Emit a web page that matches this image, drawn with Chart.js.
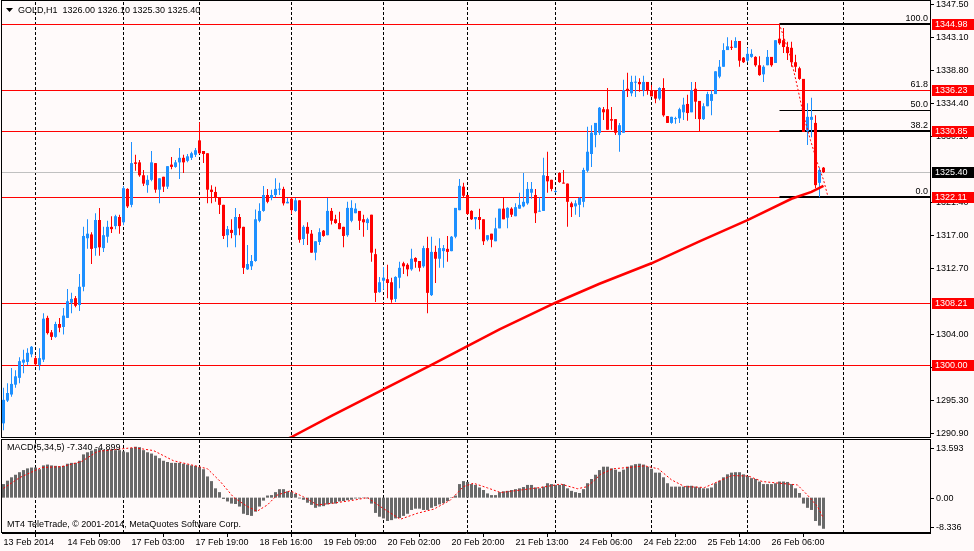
<!DOCTYPE html>
<html>
<head>
<meta charset="utf-8">
<title>GOLD,H1</title>
<script src="https://cdn.jsdelivr.net/npm/chart.js@4.4.1/dist/chart.umd.min.js"></script>
<style>
    html, body {margin: 0; padding: 0; background: #fffafa;}
    #wrap {position: relative; width: 974px; height: 551px; overflow: hidden; background: #fffafa;}
    canvas {position: absolute; left: 0;}
    #priceChart {top: 0;}
    #macdChart {top: 436px;}
</style>
</head>
<body>
<div id="wrap">
    <canvas id="priceChart" width="974" height="446"></canvas>
    <canvas id="macdChart" width="974" height="115"></canvas>
</div>
<script>
// GOLD H1 candles, 13 Feb 17:00 .. 26 Feb 2014
const opens = [
    1292.3, 1295.3, 1296.1, 1297.4, 1298.3, 1300.3, 1300.4, 1301.4, 1300.9, 1300.0,
    1300.7, 1306.2, 1304.3, 1303.7, 1305.4, 1305.0, 1306.2, 1308.2, 1308.8, 1307.9,
    1310.3, 1316.7, 1317.2, 1315.4, 1319.1, 1315.4, 1316.9, 1318.2, 1318.3, 1319.5,
    1318.8, 1323.2, 1321.1, 1326.7, 1326.7, 1325.0, 1323.7, 1324.4, 1326.6, 1323.1,
    1324.8, 1323.5, 1326.4, 1326.1, 1326.7, 1327.3, 1326.9, 1327.3, 1327.7, 1329.6,
    1328.2, 1327.9, 1323.1, 1322.8, 1322.0, 1321.1, 1317.1, 1317.8, 1317.1, 1319.5,
    1318.2, 1312.6, 1313.0, 1313.7, 1319.0, 1320.3, 1322.4, 1322.0, 1322.4, 1323.1,
    1323.2, 1321.3, 1321.9, 1320.3, 1321.7, 1316.6, 1318.2, 1317.3, 1314.8, 1316.2,
    1317.7, 1317.1, 1320.3, 1319.2, 1318.7, 1318.2, 1317.1, 1319.0, 1320.0, 1320.3,
    1319.2, 1318.7, 1319.8, 1314.6, 1309.6, 1311.1, 1311.3, 1310.9, 1308.7, 1311.5,
    1313.4, 1313.2, 1312.6, 1314.1, 1313.7, 1313.0, 1315.4, 1309.2, 1314.9, 1314.0,
    1315.0, 1315.3, 1315.0, 1316.9, 1320.4, 1323.5, 1322.4, 1320.3, 1319.2, 1319.5,
    1319.2, 1316.5, 1317.3, 1316.3, 1318.0, 1320.6, 1319.4, 1320.6, 1319.6, 1320.6,
    1320.9, 1321.3, 1322.7, 1322.4, 1320.2, 1320.3, 1324.9, 1324.4, 1322.8, 1325.3,
    1324.0, 1323.9, 1321.3, 1320.9, 1321.1, 1321.5, 1325.6, 1327.8, 1330.3, 1330.6,
    1333.7, 1333.7, 1332.4, 1332.4, 1330.3, 1330.6, 1336.4, 1335.8, 1337.2, 1337.3,
    1336.2, 1337.3, 1336.2, 1336.1, 1335.1, 1336.5, 1332.8, 1331.9, 1332.4, 1332.5,
    1333.3, 1334.4, 1333.3, 1336.4, 1334.8, 1332.4, 1334.1, 1334.8, 1335.7, 1338.0,
    1339.3, 1341.5, 1341.9, 1341.8, 1342.7, 1340.5, 1340.1, 1340.6, 1340.6, 1339.5,
    1338.3, 1339.5, 1340.6, 1339.8, 1343.0, 1342.8, 1341.9, 1341.8, 1339.9, 1339.1,
    1337.7, 1330.8, 1332.3, 1331.9, 1324.0, 1326.00
]
const highs = [
    1297.0, 1297.6, 1299.6, 1299.3, 1301.0, 1302.0, 1302.2, 1302.5, 1301.2, 1302.2,
    1306.8, 1306.5, 1304.6, 1305.7, 1306.2, 1307.5, 1310.0, 1309.5, 1309.1, 1312.0,
    1318.2, 1319.2, 1317.5, 1320.0, 1320.7, 1318.2, 1319.0, 1319.6, 1319.8, 1319.8,
    1323.6, 1323.3, 1329.4, 1327.7, 1327.0, 1325.7, 1325.0, 1328.2, 1326.6, 1324.6,
    1324.8, 1326.2, 1327.4, 1327.0, 1328.6, 1327.7, 1327.8, 1328.1, 1328.6, 1332.0,
    1328.2, 1327.9, 1323.7, 1323.5, 1322.0, 1321.1, 1318.3, 1319.2, 1320.7, 1319.9,
    1318.2, 1315.8, 1314.5, 1320.5, 1321.3, 1323.6, 1323.2, 1323.1, 1324.6, 1324.0,
    1323.5, 1322.0, 1322.0, 1322.0, 1321.7, 1318.4, 1318.8, 1317.8, 1316.3, 1318.0,
    1317.8, 1322.0, 1320.7, 1319.8, 1320.2, 1318.2, 1321.5, 1321.7, 1321.3, 1320.3,
    1319.8, 1319.4, 1319.8, 1315.3, 1311.6, 1312.9, 1313.2, 1311.5, 1311.7, 1313.6,
    1313.6, 1313.4, 1315.3, 1314.2, 1313.7, 1315.7, 1316.9, 1316.9, 1315.7, 1316.7,
    1315.8, 1317.0, 1317.0, 1320.7, 1324.5, 1324.0, 1322.4, 1320.4, 1319.5, 1320.6,
    1319.2, 1317.1, 1317.3, 1319.4, 1320.6, 1322.1, 1320.8, 1320.8, 1321.3, 1322.7,
    1325.3, 1324.1, 1324.1, 1323.2, 1322.1, 1327.3, 1328.1, 1324.4, 1323.1, 1325.4,
    1325.7, 1323.9, 1321.5, 1321.7, 1322.1, 1326.0, 1331.4, 1331.6, 1331.9, 1334.0,
    1334.0, 1336.5, 1334.0, 1332.4, 1331.9, 1337.6, 1338.5, 1338.1, 1338.1, 1337.8,
    1338.1, 1337.3, 1336.9, 1336.2, 1336.6, 1337.8, 1332.8, 1332.7, 1332.7, 1333.9,
    1335.2, 1335.6, 1337.3, 1337.3, 1334.8, 1334.5, 1336.0, 1336.2, 1338.7, 1340.2,
    1342.4, 1343.2, 1342.8, 1343.2, 1342.7, 1340.6, 1341.8, 1341.6, 1340.7, 1340.7,
    1339.5, 1341.5, 1340.6, 1342.8, 1344.98, 1344.4, 1342.6, 1342.6, 1340.9, 1339.3,
    1337.7, 1334.5, 1335.2, 1332.9, 1326.0, 1326.10
]
const lows = [
    1291.4, 1295.1, 1295.8, 1297.0, 1297.6, 1298.9, 1300.0, 1301.0, 1299.9, 1299.3,
    1300.4, 1304.0, 1303.3, 1303.6, 1304.3, 1304.0, 1306.2, 1306.8, 1307.6, 1307.1,
    1309.7, 1315.3, 1313.3, 1314.4, 1314.4, 1314.9, 1316.1, 1317.4, 1317.9, 1317.3,
    1318.4, 1320.7, 1320.8, 1325.6, 1324.8, 1323.6, 1322.7, 1324.2, 1322.7, 1321.3,
    1322.8, 1323.2, 1325.8, 1326.0, 1324.5, 1325.3, 1326.7, 1327.0, 1327.4, 1327.8,
    1326.6, 1321.3, 1321.3, 1321.5, 1319.9, 1316.6, 1315.5, 1316.7, 1315.5, 1317.1,
    1312.0, 1312.5, 1312.5, 1313.6, 1318.8, 1320.2, 1321.3, 1321.7, 1322.1, 1322.4,
    1321.0, 1321.3, 1319.9, 1320.2, 1316.1, 1315.8, 1315.8, 1314.8, 1313.8, 1315.8,
    1316.9, 1317.1, 1318.5, 1318.6, 1317.9, 1315.5, 1316.9, 1318.8, 1320.0, 1317.8,
    1316.9, 1317.8, 1313.6, 1308.3, 1309.5, 1309.9, 1308.8, 1308.2, 1308.3, 1310.1,
    1312.0, 1311.7, 1312.4, 1312.8, 1312.3, 1312.8, 1306.8, 1309.1, 1310.8, 1312.8,
    1312.8, 1313.6, 1315.0, 1316.7, 1320.4, 1322.1, 1319.8, 1319.1, 1317.9, 1317.9,
    1315.8, 1316.3, 1315.5, 1316.3, 1318.0, 1319.2, 1318.0, 1319.5, 1319.6, 1320.6,
    1320.8, 1321.1, 1321.9, 1318.7, 1320.2, 1320.3, 1322.7, 1322.9, 1322.7, 1324.0,
    1323.9, 1318.2, 1319.5, 1319.8, 1319.5, 1320.8, 1325.4, 1326.1, 1328.7, 1330.3,
    1332.3, 1331.0, 1331.0, 1330.3, 1328.1, 1330.6, 1335.3, 1335.4, 1335.3, 1336.0,
    1335.4, 1335.6, 1335.4, 1334.5, 1334.9, 1332.7, 1331.9, 1331.8, 1331.8, 1331.9,
    1332.3, 1332.2, 1333.3, 1332.4, 1330.7, 1332.3, 1334.1, 1332.9, 1335.7, 1337.8,
    1339.3, 1341.5, 1341.5, 1341.8, 1339.3, 1339.8, 1339.9, 1340.5, 1339.3, 1338.1,
    1337.3, 1339.5, 1339.3, 1339.8, 1342.2, 1341.1, 1340.2, 1339.3, 1338.6, 1337.6,
    1330.7, 1329.0, 1330.0, 1323.3, 1322.11, 1325.30
]
const closes = [
    1295.4, 1296.3, 1297.5, 1298.5, 1300.5, 1300.7, 1301.6, 1302.4, 1300.1, 1300.9,
    1306.1, 1304.2, 1303.7, 1305.4, 1304.9, 1306.5, 1308.4, 1308.7, 1307.8, 1310.3,
    1317.0, 1317.3, 1315.3, 1319.1, 1315.5, 1317.1, 1318.2, 1317.9, 1319.6, 1318.3,
    1323.3, 1320.9, 1326.6, 1326.5, 1325.0, 1323.9, 1324.4, 1326.7, 1323.1, 1324.6,
    1323.5, 1326.2, 1326.1, 1326.7, 1327.3, 1326.7, 1327.5, 1327.9, 1328.3, 1327.9,
    1327.8, 1323.1, 1322.8, 1322.0, 1321.1, 1317.0, 1317.9, 1317.4, 1319.5, 1318.0,
    1312.8, 1313.3, 1313.7, 1319.2, 1320.3, 1322.4, 1321.5, 1322.4, 1323.2, 1323.2,
    1321.3, 1321.5, 1320.4, 1321.7, 1316.5, 1318.2, 1317.3, 1314.8, 1316.3, 1317.5,
    1317.0, 1320.3, 1319.0, 1318.7, 1317.9, 1317.0, 1320.7, 1320.7, 1320.6, 1319.0,
    1318.8, 1319.2, 1314.8, 1309.5, 1310.9, 1311.5, 1310.8, 1308.6, 1311.6, 1312.8,
    1313.0, 1312.6, 1314.0, 1313.6, 1312.8, 1315.4, 1309.5, 1314.9, 1314.0, 1315.4,
    1315.4, 1314.9, 1316.9, 1320.7, 1323.6, 1322.3, 1319.9, 1319.2, 1319.5, 1319.1,
    1316.3, 1317.1, 1316.5, 1318.0, 1320.6, 1319.2, 1320.7, 1319.8, 1320.8, 1321.1,
    1321.5, 1323.2, 1323.2, 1320.0, 1320.3, 1325.0, 1324.2, 1323.2, 1322.9, 1324.1,
    1323.9, 1321.5, 1320.8, 1321.3, 1322.0, 1325.7, 1328.1, 1330.6, 1331.9, 1333.9,
    1333.3, 1331.0, 1332.2, 1330.6, 1331.6, 1336.2, 1336.1, 1337.3, 1337.3, 1337.0,
    1337.3, 1336.2, 1335.4, 1335.1, 1336.5, 1332.9, 1331.9, 1332.7, 1332.5, 1333.7,
    1334.3, 1333.2, 1336.2, 1334.7, 1332.4, 1334.1, 1335.7, 1335.7, 1338.7, 1339.3,
    1341.5, 1342.0, 1341.8, 1342.7, 1340.1, 1339.9, 1341.0, 1341.0, 1339.5, 1338.2,
    1339.3, 1340.6, 1339.5, 1342.8, 1342.4, 1341.9, 1341.1, 1339.9, 1339.3, 1337.7,
    1330.7, 1332.7, 1332.7, 1323.7, 1325.7, 1325.40
]

// slow moving average (red, thick), read at these bars
const maBars = [66, 72, 82, 107, 124, 138, 149, 162, 174, 186, 197, 202, 205]
const maValues = [1289.1, 1290.5, 1293.3, 1300.0, 1304.7, 1308.2, 1310.7, 1313.4, 1316.3, 1319.1, 1321.9, 1322.8, 1323.6]

// short dotted average at the end
const dotBars = [194.25, 196.75, 198.5, 200, 201.75, 203.5, 205, 206]
const dotValues = [1344.5, 1340.6, 1336.6, 1332.9, 1329.6, 1326.6, 1324.4, 1322.4]

// horizontal levels
const redLevels = [1344.98, 1336.23, 1330.85, 1322.11, 1308.21, 1300.00]
const bidPrice = 1325.40
const fibStartBar = 194
const fibLevels = [1344.98, 1336.23, 1333.55, 1330.85, 1322.11]
const fibLabels = ['100.0', '61.8', '50.0', '38.2', '0.0']

// axes
const priceTicks = [1347.50, 1343.10, 1338.80, 1334.40, 1330.10, 1321.40, 1317.00, 1312.70, 1304.00, 1299.60, 1295.30, 1290.90]
const gridBars = [8, 30, 49, 72, 95, 116, 138, 162, 186, 210]
const timeBars = [0, 16, 32, 48, 64, 80, 96, 112, 128, 144, 160, 176, 192]
const timeLabels = ['13 Feb 2014', '14 Feb 09:00', '17 Feb 03:00', '17 Feb 19:00', '18 Feb 16:00', '19 Feb 09:00',
    '20 Feb 02:00', '20 Feb 20:00', '21 Feb 13:00', '24 Feb 06:00', '24 Feb 22:00', '25 Feb 14:00', '26 Feb 06:00']

// MACD(5,34,5)
const macdHist = [
    3.2, 4.0, 4.8, 5.4, 6.0, 6.5, 6.9, 7.1, 7.1, 6.7,
    7.6, 7.8, 7.6, 7.5, 7.4, 7.5, 8.0, 8.2, 8.2, 8.7,
    10.2, 10.7, 11.1, 11.5, 11.5, 11.3, 11.3, 11.3, 11.2, 11.2,
    10.9, 10.7, 11.7, 12.0, 11.9, 11.2, 10.7, 10.4, 9.9, 9.3,
    8.7, 8.4, 8.2, 8.2, 8.2, 8.0, 7.8, 7.6, 7.5, 7.2,
    6.7, 5.0, 3.9, 2.2, 1.3, -0.3, -0.9, -1.4, -1.5, -2.1,
    -3.8, -4.1, -4.3, -3.3, -2.1, -0.7, 0.5, 0.6, 1.3, 2.0,
    2.0, 1.5, 1.3, 0.9, -0.2, -0.5, -1.2, -1.7, -2.4, -2.1,
    -2.0, -1.6, -1.4, -1.4, -0.9, -0.8, -0.6, -0.5, -0.2, -0.2,
    -0.1, -0.2, -1.4, -3.6, -4.5, -4.9, -5.5, -5.3, -4.9, -4.8,
    -4.3, -3.8, -2.9, -2.6, -2.6, -2.9, -2.9, -2.4, -2.0, -1.6,
    -1.3, -0.8, 0.1, 0.5, 3.2, 3.9, 3.7, 3.2, 3.0, 2.4,
    1.8, 1.0, 0.6, 0.6, 1.3, 1.5, 1.6, 1.8, 2.0, 2.2,
    2.5, 3.0, 3.0, 2.4, 2.2, 2.6, 3.4, 3.2, 3.0, 3.0,
    3.2, 2.2, 1.6, 1.3, 1.1, 2.0, 3.4, 4.4, 5.4, 6.5,
    7.3, 7.3, 6.9, 6.6, 6.1, 6.6, 7.3, 7.6, 7.9, 8.0,
    7.8, 7.3, 6.8, 5.9, 5.9, 4.8, 3.4, 2.6, 2.6, 2.6,
    2.6, 2.8, 2.8, 2.6, 2.4, 2.2, 2.2, 2.4, 3.4, 4.0,
    4.8, 5.5, 5.9, 6.0, 6.0, 5.5, 5.1, 4.6, 4.4, 3.8,
    3.2, 3.2, 3.2, 3.4, 3.8, 3.8, 3.7, 3.2, 2.2, 1.1,
    -1.4, -2.4, -2.9, -5.5, -6.6, -7.34
]
const signalBars = [0, 4, 9.5, 14.5, 19.5, 23.5, 32.5, 37.5, 42.5, 47.5, 51, 54.2, 57.6, 61, 63.4, 66, 68.4, 71.7, 75, 78.4,
    82.5, 87.5, 91, 94.2, 99.2, 103.4, 107.6, 111.7, 115, 117.5, 121, 124.3, 129.3, 134.3, 139.3, 143.5, 146, 149.3, 152.3, 157.3,
    160.3, 163.7, 167, 170.3, 175.3, 178.7, 182, 186.2, 189.7, 194, 198.5, 201, 203.5, 205]
const signalValues = [2.2, 4.7, 7.1, 7.3, 8.5, 10.9, 11.8, 11.1, 8.7, 7.6, 6.8, 3.8, 0, -2.1, -3.2, -1.7, 0.6, 1.6, 0.2, -1.7,
    -1.3, -0.6, 0, -2.1, -5.1, -3.7, -2.7, -0.6, 2.6, 3.4, 2.3, 1.2, 1.8, 2.4, 3.2, 2.1, 2.6, 5.5, 6.8, 7.2,
    7.5, 6.8, 4.2, 2.6, 2.4, 3.8, 5.2, 5.1, 3.8, 3.4, 3.0, 0.6, -2.1, -4.899]
const macdTicks = [13.593, 0, -8.336]
const macdTickLabels = ['13.593', '0.00', '-8.336']

const titleText = 'GOLD,H1  1326.00 1326.10 1325.30 1325.40'
const macdText = 'MACD(5,34,5) -7.340 -4.899'
const copyText = 'MT4 TeleTrade, \u00a9 2001-2014, MetaQuotes Software Corp.'

const FONT = '9px "Liberation Sans", Arial, sans-serif'
const font = {family: '"Liberation Sans", Arial, sans-serif', size: 9}
const BULL = '#1e90ff'
const BEAR = '#ff0000'

const bars = opens.map((o, i) => i)
const candleColor = bars.map(i => closes[i] >= opens[i] ? BULL : BEAR)
const xMin = -0.375
const xMax = 231.625

const crisp = v => Math.round(v) + 0.5

const hLine = (ctx, x1, x2, yy) => {
    ctx.beginPath()
    ctx.moveTo(x1, yy)
    ctx.lineTo(x2, yy)
    ctx.stroke()
}

const dashedGrid = (ctx, chart) => {
    const a = chart.chartArea
    const x = chart.scales.x
    ctx.strokeStyle = '#000'
    ctx.lineWidth = 1
    ctx.setLineDash([3, 2])
    gridBars.forEach(b => {
        const px = crisp(x.getPixelForValue(b) - 0.5)
        ctx.beginPath()
        ctx.moveTo(px, a.top)
        ctx.lineTo(px, a.bottom)
        ctx.stroke()
    })
    ctx.setLineDash([])
}

const priceOverlay = {
    id: 'priceOverlay',
    beforeDatasetsDraw(chart) {
        const {ctx, chartArea: a, scales: {x, y}} = chart
        ctx.save()
        dashedGrid(ctx, chart)
        ctx.lineWidth = 1
        ctx.strokeStyle = '#c0c0c0'
        hLine(ctx, a.left, a.right, crisp(y.getPixelForValue(bidPrice)))
        ctx.strokeStyle = '#ff0000'
        redLevels.forEach(v => hLine(ctx, a.left, a.right, crisp(y.getPixelForValue(v))))
        const fx = x.getPixelForValue(fibStartBar)
        ctx.strokeStyle = '#000'
        fibLevels.forEach((v, k) => {
            if (fibLabels[k] === '61.8') return
            const yy = crisp(y.getPixelForValue(v))
            ctx.lineWidth = fibLabels[k] === '50.0' ? 1 : 2
            hLine(ctx, fx, a.right, fibLabels[k] === '50.0' ? yy : yy - 0.5)
        })
        ctx.restore()
    },
    afterDraw(chart) {
        const {ctx, chartArea: a, scales: {y}} = chart
        ctx.save()
        // frame
        ctx.strokeStyle = '#000'
        ctx.lineWidth = 1
        ctx.strokeRect(1.5, 0.5, a.right - 1, a.bottom)
        // title
        ctx.fillStyle = '#000'
        ctx.beginPath()
        ctx.moveTo(6, 8)
        ctx.lineTo(13, 8)
        ctx.lineTo(9.5, 12)
        ctx.closePath()
        ctx.fill()
        ctx.font = FONT
        ctx.textBaseline = 'middle'
        ctx.textAlign = 'left'
        ctx.fillText(titleText, 18, 10.5)
        // fibo labels
        ctx.textAlign = 'right'
        ctx.textBaseline = 'bottom'
        fibLevels.forEach((v, k) => {
            ctx.fillText(fibLabels[k], a.right - 2, Math.round(y.getPixelForValue(v)) - 1)
        })
        // price boxes on the axis
        ctx.textAlign = 'left'
        ctx.textBaseline = 'middle'
        const box = (v, color) => {
            const yy = Math.round(y.getPixelForValue(v))
            ctx.fillStyle = color
            ctx.fillRect(a.right + 2, yy - 5, 974 - a.right - 2, 11)
            ctx.fillStyle = '#fff'
            ctx.fillText(v.toFixed(2), a.right + 5, yy + 0.5)
        }
        redLevels.forEach(v => box(v, '#ff0000'))
        box(bidPrice, '#000')
        ctx.restore()
    }
}

const macdOverlay = {
    id: 'macdOverlay',
    beforeDatasetsDraw(chart) {
        const {ctx} = chart
        ctx.save()
        dashedGrid(ctx, chart)
        ctx.restore()
    },
    afterDraw(chart) {
        const {ctx, chartArea: a, scales: {y}} = chart
        ctx.save()
        ctx.strokeStyle = '#000'
        ctx.lineWidth = 1
        ctx.strokeRect(1.5, a.top - 0.5, a.right - 1, a.bottom - a.top)
        ctx.font = FONT
        ctx.fillStyle = '#000'
        ctx.textBaseline = 'middle'
        ctx.textAlign = 'left'
        ctx.fillText(macdText, 7, a.top + 8)
        ctx.fillText(copyText, 7, a.bottom - 8)
        // MT4 keeps the end labels inside the panel
        macdTicks.forEach((v, k) => {
            let yy = Math.round(y.getPixelForValue(v))
            if (k === 0) yy = a.top + 8
            if (k === macdTicks.length - 1) yy = a.bottom - 6
            hLine(ctx, a.right, a.right + 4, yy + 0.5)
            ctx.fillText(macdTickLabels[k], a.right + 6, yy + 0.5)
        })
        ctx.restore()
    }
}

new Chart(document.getElementById('priceChart'), {
    type: 'bar',
    data: {
        datasets: [
            {
                type: 'line',
                data: dotBars.map((b, k) => ({x: b, y: dotValues[k]})),
                borderColor: '#ff0000',
                borderWidth: 1,
                borderDash: [2, 2],
                pointRadius: 0,
                order: 0,
            },
            {
                type: 'line',
                data: maBars.map((b, k) => ({x: b, y: maValues[k]})),
                borderColor: '#ff0000',
                borderWidth: 2.5,
                pointRadius: 0,
                order: 1,
            },
            {
                data: bars.map(i => ({x: i, y: [opens[i], closes[i]]})),
                backgroundColor: candleColor,
                barThickness: 3,
                grouped: false,
                minBarLength: 1,
                inflateAmount: 0,
                order: 2,
            },
            {
                data: bars.map(i => ({x: i, y: [lows[i], highs[i]]})),
                backgroundColor: candleColor,
                barThickness: 1,
                grouped: false,
                inflateAmount: 0,
                order: 3,
            },
        ],
    },
    options: {
        responsive: false,
        devicePixelRatio: 1,
        animation: false,
        layout: {padding: {left: 2, top: 2, right: 0, bottom: 9}},
        plugins: {legend: {display: false}, tooltip: {enabled: false}},
        scales: {
            x: {type: 'linear', display: false, min: xMin, max: xMax, offset: false},
            y: {
                position: 'right',
                min: 1290.503,
                max: 1347.836,
                beginAtZero: false,
                afterBuildTicks: s => {
                    s.ticks = priceTicks.map(v => ({value: v}))
                },
                afterFit: s => {
                    s.width = 44
                    s.paddingTop = 0
                    s.paddingBottom = 0
                },
                ticks: {font, color: '#000', padding: 2, autoSkip: false, callback: v => v.toFixed(2)},
                grid: {drawOnChartArea: false, drawTicks: true, tickLength: 4, color: '#000'},
                border: {display: true, color: '#000'},
            },
        },
    },
    plugins: [priceOverlay],
})

new Chart(document.getElementById('macdChart'), {
    type: 'bar',
    data: {
        datasets: [
            {
                type: 'line',
                data: signalBars.map((b, k) => ({x: b, y: signalValues[k]})),
                borderColor: '#ff0000',
                borderWidth: 1,
                borderDash: [2, 2],
                pointRadius: 0,
                order: 0,
            },
            {
                data: bars.map(i => ({x: i, y: macdHist[i]})),
                backgroundColor: '#696969',
                barThickness: 3,
                grouped: false,
                inflateAmount: 0,
                order: 1,
            },
        ],
    },
    options: {
        responsive: false,
        devicePixelRatio: 1,
        animation: false,
        layout: {padding: {left: 2, top: 4, right: 0, bottom: 0}},
        plugins: {legend: {display: false}, tooltip: {enabled: false}},
        scales: {
            x: {
                type: 'linear',
                min: xMin,
                max: xMax,
                offset: false,
                afterBuildTicks: s => {
                    s.ticks = timeBars.map(v => ({value: v}))
                },
                afterFit: s => {
                    s.height = 18
                    s.paddingLeft = 0
                    s.paddingRight = 0
                },
                ticks: {
                    font,
                    color: '#000',
                    padding: 0,
                    autoSkip: false,
                    maxRotation: 0,
                    minRotation: 0,
                    align: 'start',
                    callback: (v, k) => timeLabels[k],
                },
                grid: {drawOnChartArea: false, drawTicks: true, tickLength: 4, color: '#000'},
                border: {display: true, color: '#000'},
            },
            y: {
                position: 'right',
                min: -8.336,
                max: 13.593,
                beginAtZero: false,
                afterFit: s => {
                    s.width = 44
                    s.paddingTop = 0
                    s.paddingBottom = 0
                },
                ticks: {display: false},
                grid: {display: false},
                border: {display: true, color: '#000'},
            },
        },
    },
    plugins: [macdOverlay],
})
</script>
</body>
</html>
